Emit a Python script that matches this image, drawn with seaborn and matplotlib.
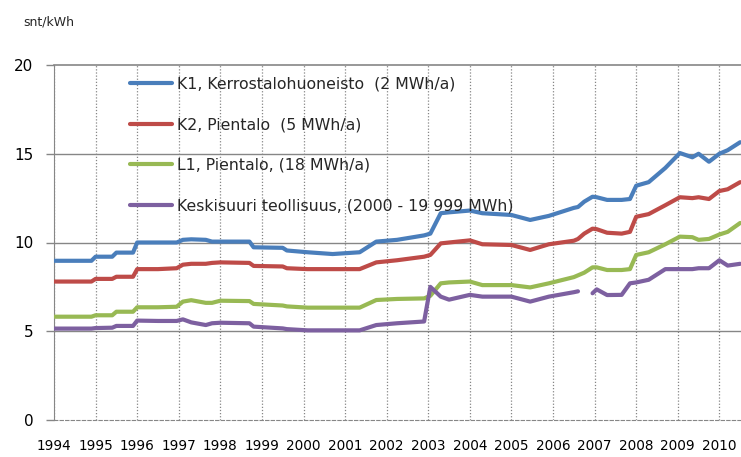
import numpy as np
import pandas as pd
import matplotlib.pyplot as plt
import seaborn as sns

# ── Data ──────────────────────────────────────────────────────────────────────

years = [1994.0, 1994.9, 1995.0, 1995.4, 1995.5, 1995.9, 1996.0, 1996.5, 1996.95,
         1997.1, 1997.3, 1997.65, 1997.8, 1998.0, 1998.7, 1998.8, 1999.5, 1999.6,
         2000.1, 2000.7, 2001.35, 2001.75, 2002.25, 2002.9, 2003.05, 2003.3,
         2003.5, 2004.0, 2004.3, 2005.0, 2005.45, 2005.9, 2006.5, 2006.6,
         2006.75, 2006.95, 2007.05, 2007.3, 2007.65, 2007.85, 2008.0, 2008.3,
         2008.7, 2009.05, 2009.35, 2009.5, 2009.75, 2010.0, 2010.2, 2010.5]

k1 = [8.97, 8.97, 9.2, 9.2, 9.43, 9.43, 10.0, 10.0, 10.0,
      10.15, 10.18, 10.15, 10.05, 10.05, 10.05, 9.73, 9.7, 9.55,
      9.45, 9.35, 9.45, 10.05, 10.15, 10.4, 10.5, 11.65,
      11.7, 11.8, 11.65, 11.55, 11.27, 11.5, 11.95, 12.0,
      12.3, 12.58, 12.55, 12.4, 12.4, 12.45, 13.2, 13.4,
      14.2, 15.04, 14.8, 15.0, 14.55, 15.0, 15.2, 15.65]

k2 = [7.8, 7.8, 7.95, 7.95, 8.07, 8.07, 8.5, 8.5, 8.55,
      8.75, 8.8, 8.8, 8.85, 8.88, 8.85, 8.68, 8.65, 8.55,
      8.5, 8.5, 8.5, 8.88, 9.0, 9.2, 9.3, 9.95,
      10.0, 10.12, 9.9, 9.86, 9.58, 9.9, 10.1, 10.2,
      10.5, 10.78, 10.75, 10.55, 10.5, 10.6, 11.45, 11.6,
      12.1, 12.55, 12.5, 12.55, 12.45, 12.9, 13.0, 13.4]

l1 = [5.82, 5.82, 5.9, 5.9, 6.1, 6.1, 6.35, 6.35, 6.38,
      6.67, 6.75, 6.6, 6.6, 6.72, 6.7, 6.54, 6.45, 6.4,
      6.33, 6.33, 6.33, 6.76, 6.82, 6.85, 7.0, 7.7,
      7.75, 7.8, 7.6, 7.6, 7.47, 7.7, 8.05, 8.15,
      8.3, 8.6, 8.6, 8.45, 8.45, 8.5, 9.3, 9.45,
      9.9, 10.33, 10.3, 10.15, 10.2, 10.45, 10.6, 11.1]

keskisuuri = [5.15, 5.15, 5.18, 5.2, 5.3, 5.3, 5.6, 5.58, 5.58,
              5.67, 5.5, 5.35, 5.45, 5.48, 5.45, 5.26, 5.16, 5.12,
              5.05, 5.05, 5.05, 5.35, 5.45, 5.55, 7.5, 6.95,
              6.78, 7.05, 6.95, 6.95, 6.67, 6.95, 7.2, 7.25,
              np.nan, 7.14, 7.36, 7.04, 7.05, 7.7, 7.75, 7.9,
              8.5, 8.5, 8.5, 8.55, 8.55, 9.0, 8.7, 8.8]

series_names = [
    "K1, Kerrostalohuoneisto  (2 MWh/a)",
    "K2, Pientalo  (5 MWh/a)",
    "L1, Pientalo, (18 MWh/a)",
    "Keskisuuri teollisuus, (2000 - 19 999 MWh)",
]
series_colors = ["#4A7EBB", "#BE4B48", "#98B954", "#7D60A0"]

y_ticks = [0, 5, 10, 15, 20]
x_ticks = list(range(1994, 2011))
unit_label = "snt/kWh"

GRID = "#868686"


def long_frame():
    """Long-form table; a NaN splits a series into separate line pieces."""
    frames = []
    for name, values in zip(series_names, [k1, k2, l1, keskisuuri]):
        df = pd.DataFrame({"year": years, "price": values, "series": name})
        df["piece"] = name + "_" + df["price"].isna().cumsum().astype(str)
        frames.append(df.dropna())
    return pd.concat(frames, ignore_index=True)


def main():
    sns.set_style("white")
    plt.rcParams["font.family"] = ["DejaVu Sans"]

    data = long_frame()

    fig = plt.figure(figsize=(7.41, 4.57), dpi=100)
    ax = fig.add_axes([54 / 741, 1 - 420 / 457, 687 / 741, 355 / 457])

    sns.lineplot(
        data=data, x="year", y="price",
        hue="series", hue_order=series_names,
        palette=dict(zip(series_names, series_colors)),
        units="piece", estimator=None, sort=False,
        lw=3.0, ax=ax, zorder=3,
    )

    # grid: solid horizontal lines, dotted vertical ones
    for v in y_ticks[1:-1]:
        ax.axhline(v, color=GRID, lw=1.0, zorder=1)
    ax.set_xticks(x_ticks)
    ax.set_yticks(y_ticks)
    ax.grid(axis="x", color=GRID, linestyle=(0, (1, 1.5)), lw=0.9)
    ax.grid(axis="y", visible=False)

    ax.set_xlim(1994, 2010.52)
    ax.set_ylim(0, 20)
    ax.set_xlabel("")
    ax.set_ylabel("")

    ax.spines["right"].set_visible(False)
    ax.spines["left"].set_color(GRID)
    ax.spines["bottom"].set_color(GRID)
    ax.spines["bottom"].set_linestyle((0, (3, 2)))
    ax.spines["top"].set_color(GRID)
    ax.spines["top"].set_linestyle((0, (1, 1)))
    ax.spines["top"].set_linewidth(1.2)

    ax.tick_params(axis="x", direction="inout", length=6, width=1, color=GRID,
                   pad=11, labelsize=9.8, labelcolor="black")
    ax.tick_params(axis="y", direction="out", length=6, width=1, color=GRID,
                   pad=9, labelsize=11, labelcolor="black", left=True)
    ax.set_xticklabels([str(y) for y in x_ticks])

    sns.move_legend(
        ax, "upper left", bbox_to_anchor=(0.1106, 0.967),
        frameon=False, title=None, fontsize=11.3,
        handlelength=2.7, handletextpad=0.28, labelspacing=1.63,
        borderpad=0, borderaxespad=0,
    )
    for line in ax.get_legend().get_lines():
        line.set_linewidth(3.0)

    fig.text(23 / 741, 1 - 22 / 457, unit_label, fontsize=9, va="center")

    fig.savefig("out.png", dpi=100)
    plt.close(fig)


if __name__ == "__main__":
    main()
